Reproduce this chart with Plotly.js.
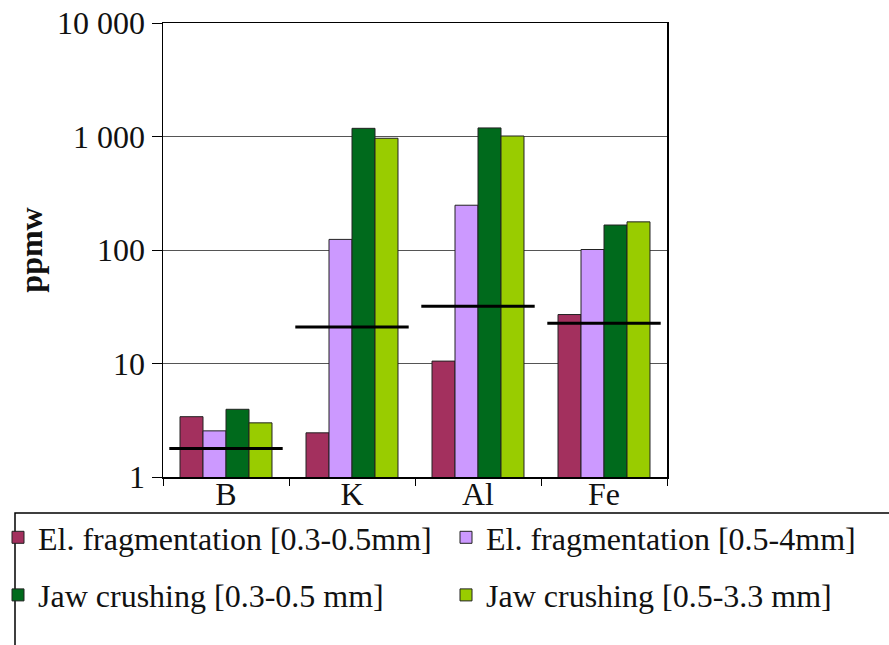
<!DOCTYPE html>
<html>
<head>
<meta charset="utf-8">
<script src="https://cdn.plot.ly/plotly-3.0.1.min.js"></script>
<style>html,body{margin:0;padding:0;background:#fff;}</style>
</head>
<body>
<div id="chart" style="width:889px;height:645px;"></div>
<script>
// ---- data ----
const elements = ['B', 'K', 'Al', 'Fe'];
const elFrag_03_05 = [3.4, 2.45, 10.5, 27];
const elFrag_05_4 = [2.55, 124, 248, 101];
const jaw_03_05 = [3.95, 1180, 1190, 166];
const jaw_05_33 = [3.0, 965, 1010, 177];
const limitValues = [1.78, 21, 32, 22.6];
const seriesNames = ['El. fragmentation [0.3-0.5mm]', 'El. fragmentation [0.5-4mm]',
                     'Jaw crushing [0.3-0.5 mm]', 'Jaw crushing [0.5-3.3 mm]'];
const yTickVals = [1, 10, 100, 1000, 10000];
const yTickText = ['1', '10', '100', '1 000', '10 000'];

// ---- styles ----
const colors = ['#A3305E', '#CC99FF', '#006A1C', '#99CC00'];
const FONT = '"Liberation Serif", "DejaVu Serif", serif';
const FS = 32;
const W = 889, H = 645, L = 163, R = 667, T = 23, B = 477;
const pw = R - L, ph = B - T;
const px = v => (v - L) / pw;
const py = v => (B - v) / ph;

const seriesData = [elFrag_03_05, elFrag_05_4, jaw_03_05, jaw_05_33];
const legendFor = ['legend', 'legend2', 'legend', 'legend2'];
const traces = seriesData.map((vals, i) => ({
  type: 'bar', x: elements, y: vals, name: seriesNames[i],
  marker: {color: colors[i], line: {color: '#222', width: 1}},
  legend: legendFor[i], legendgroup: 'g' + i
}));

// limit lines (drawn on an overlaid numeric axis)
const lx = [], ly = [];
elements.forEach((e, i) => { lx.push(i - 0.45, i + 0.45, null); ly.push(limitValues[i], limitValues[i], null); });
traces.push({type: 'scatter', mode: 'lines', x: lx, y: ly, xaxis: 'x2', yaxis: 'y',
  line: {color: '#000', width: 3}, showlegend: false, hoverinfo: 'skip'});

const legendCommon = {
  orientation: 'v', yanchor: 'top', xanchor: 'left', bgcolor: 'rgba(0,0,0,0)',
  font: {family: FONT, size: FS, color: '#111'}, tracegroupgap: 13, borderwidth: 0
};

const layout = {
  width: W, height: H,
  margin: {l: L, r: W - R, t: T, b: H - B, autoexpand: false},
  paper_bgcolor: '#fff', plot_bgcolor: '#fff',
  font: {family: FONT, color: '#111'},
  bargap: 0.27, bargroupgap: 0,
  showlegend: true,
  xaxis: {
    type: 'category', showline: true, linecolor: '#000', linewidth: 1.5, mirror: true,
    ticks: 'outside', ticklen: 7, tickcolor: '#000', tickson: 'boundaries',
    ticklabelstandoff: -12,
    tickfont: {family: FONT, size: FS, color: '#111'}, showgrid: false
  },
  xaxis2: {overlaying: 'x', range: [-0.5, 3.5], visible: false, fixedrange: true},
  yaxis: {
    type: 'log', range: [0, 4], tickvals: yTickVals, ticktext: yTickText,
    showline: true, linecolor: '#000', linewidth: 1.5, mirror: true,
    ticks: 'outside', ticklen: 10, tickcolor: '#000',
    showgrid: true, gridcolor: '#555', gridwidth: 1,
    tickfont: {family: FONT, size: FS, color: '#111'},
    title: {text: '<b>ppmw</b>', font: {family: FONT, size: FS, color: '#111'}, standoff: 5}
  },
  legend: Object.assign({}, legendCommon, {x: px(-2), y: py(510)}),
  legend2: Object.assign({}, legendCommon, {x: px(446), y: py(510)}),
  shapes: [{
    type: 'rect', xref: 'paper', yref: 'paper',
    x0: px(15), x1: px(900), y0: py(513), y1: py(700),
    line: {color: '#000', width: 1.5}, fillcolor: 'rgba(0,0,0,0)'
  }]
};

Plotly.newPlot('chart', traces, layout, {displayModeBar: false, staticPlot: true});
</script>
</body>
</html>
